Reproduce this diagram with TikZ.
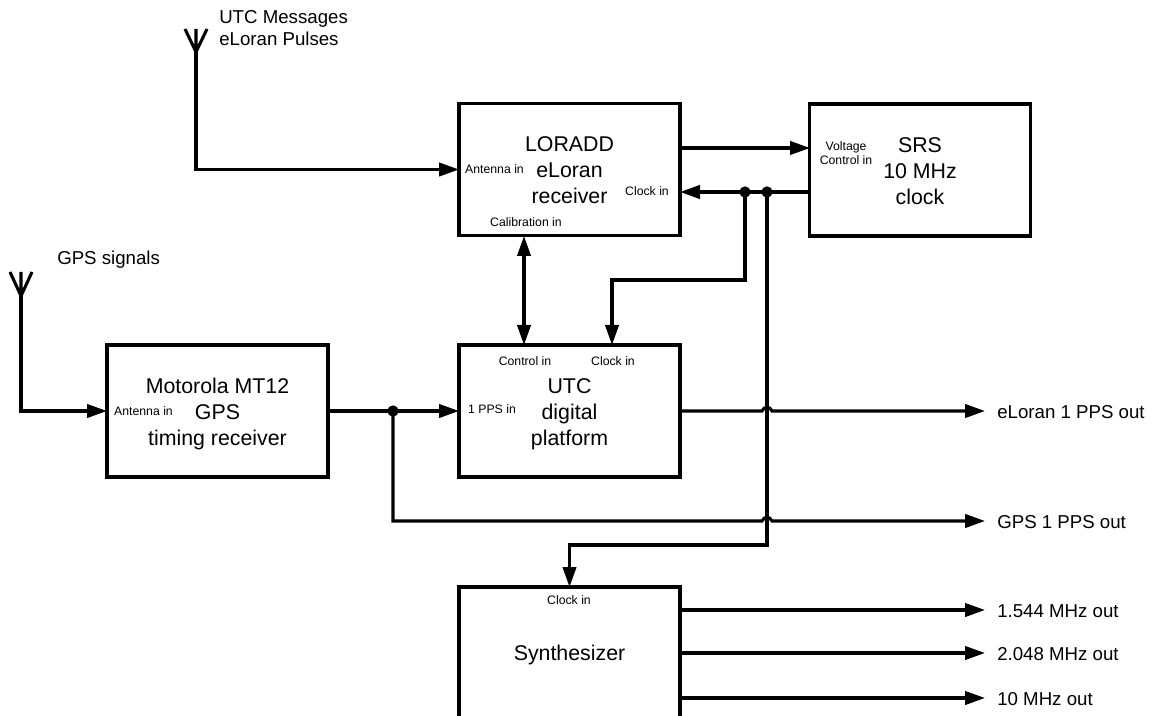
\documentclass[tikz,border=0pt]{standalone}
\usepackage{fontspec}
\setmainfont{Liberation Sans}
\usetikzlibrary{arrows.meta,calc}

\begin{document}
\begin{tikzpicture}[
        x=0.75pt, y=-0.75pt,
        block/.style={rectangle, draw, line width=2.3pt, minimum width=165.75pt, minimum height=99pt, outer sep=0pt, align=center, font=\fontsize{16}{19.5}\selectfont, text height=51.4pt, text depth=0pt},
        port/.style={font=\fontsize{9.2}{10.5}\selectfont, align=center, inner sep=0pt},
        caption/.style={font=\fontsize{14}{17}\selectfont, align=left, anchor=west, inner sep=0pt},
        outlbl/.style={font=\fontsize{14}{15}\selectfont, anchor=west, inner xsep=9pt, inner ysep=0pt, text height=11pt, text depth=0pt},
        link/.style={line width=2.3pt},
        msg/.style={link, -{Triangle[length=15pt,width=10pt]}},
        both/.style={link, {Triangle[length=15pt,width=10pt]}-{Triangle[length=15pt,width=10pt]}},
        dot/.style={circle, fill, inner sep=0pt, minimum size=8.5pt}
    ]
        \useasboundingbox (0,0) rectangle (1152,716);

        \node[block] (loradd) at (569.5,169.5) {LORADD\\eLoran\\receiver};
        \node[block] (srs) at (920,170) {SRS\\10 MHz\\clock};
        \node[block] (mt12) at (217.5,411) {Motorola MT12\\GPS\\timing receiver};
        \node[block] (utc) at (569.5,411) {UTC\\digital\\platform};
        \node[block, text height=11.6pt] (synth) at (569.5,653) {Synthesizer};

        % port names
        \node[port] at (494.5,169) {Antenna in};
        \node[port] at (647,191) {Clock in};
        \node[port] at (526,222) {Calibration in};
        \node[port] at (846,153) {Voltage\\Control in};
        \node[port] at (525,361) {Control in};
        \node[port] at (613,361) {Clock in};
        \node[port] at (492,409) {1 PPS in};
        \node[port] at (143.5,411) {Antenna in};
        \node[port] at (569,600) {Clock in};

        % captions and outputs
        \node[caption] (msgs) at (219,28) {UTC Messages\\eLoran Pulses};
        \node[caption] (gpssig) at (57,260) {GPS signals};
        \node[outlbl] (eppsout) at (985,411) {eLoran 1 PPS out};
        \node[outlbl] (gppsout) at (985,521) {GPS 1 PPS out};
        \node[outlbl] (mhza) at (985,610) {1.544 MHz out};
        \node[outlbl] (mhzb) at (985,653) {2.048 MHz out};
        \node[outlbl] (mhzc) at (985,698) {10 MHz out};

        % antennas
        \coordinate (anta) at (196,52);
        \coordinate (antb) at (21,296);
        \draw[link] (185,29) -- (anta) -- (207,29) (196,29) -- (anta);
        \draw[link] (10,272) -- (antb) -- (32,272) (21,272) -- (antb);
        \draw[msg] (anta) |- (loradd.west);
        \draw[msg] (antb) |- (mt12.west);

        % clock lines
        \coordinate (srsv) at (810,148);
        \coordinate (srsc) at (810,192);
        \coordinate (lorv) at (680,148);
        \coordinate (lorc) at (680,192);
        \node[dot] (taba) at (745,192) {};
        \node[dot] (tabb) at (767,192) {};
        \coordinate (hopa) at (767,411);
        \coordinate (hopb) at (767,521);
        \draw[msg] (lorv) -- (srsv);
        \draw[msg] (srsc) -- (lorc);
        \draw[msg] (taba.center) -- (745,280) -- (612,280) -- (612,345);
        \draw[msg] (tabb.center) -- (767,545) -- (569.5,545) -- (synth.north);

        % data lines
        \node[dot] (tabc) at (393,411) {};
        \draw[both] (524,236) -- (524,345);
        \draw[msg] (mt12.east) -- (utc.west);
        \draw[msg] (utc.east) -- ($(hopa)+(-5,0)$) .. controls ($(hopa)+(-3,-5)$) and ($(hopa)+(3,-5)$) .. ($(hopa)+(5,0)$) -- (eppsout.west);
        \draw[msg] (tabc.center) |- ($(hopb)+(-5,0)$) .. controls ($(hopb)+(-3,-5)$) and ($(hopb)+(3,-5)$) .. ($(hopb)+(5,0)$) -- (gppsout.west);

        % synthesizer outputs
        \draw[msg] (mhza.west -| synth.east) -- (mhza.west);
        \draw[msg] (mhzb.west -| synth.east) -- (mhzb.west);
        \draw[msg] (mhzc.west -| synth.east) -- (mhzc.west);
    \end{tikzpicture}
\end{document}
